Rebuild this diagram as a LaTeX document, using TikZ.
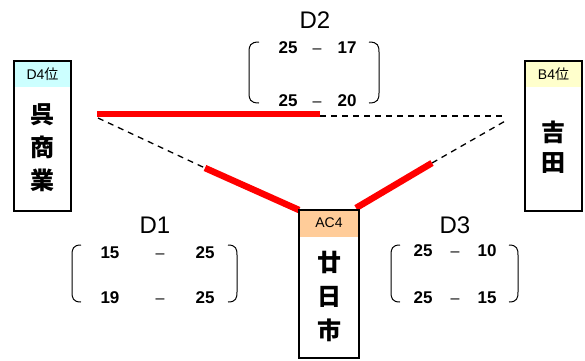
\documentclass[tikz,border=0pt]{standalone}
\usepackage{fontspec}
\setmainfont{Liberation Sans}
\newfontfamily\jp{Noto Sans CJK JP}
\definecolor{hcyan}{HTML}{CCFFFF}
\definecolor{hcream}{HTML}{FFFFCC}
\definecolor{hpeach}{HTML}{FFCC99}
\tikzset{
  teambox/.style={draw=black, line width=2.6pt, inner sep=0pt},
  headtxt/.style={font=\fontsize{14}{15}\selectfont, inner sep=0pt},
  nametxt/.style={font=\fontsize{24}{33}\selectfont\jp\bfseries, align=center, inner sep=0pt},
  setlbl/.style={font=\fontsize{24}{26}\selectfont, inner sep=0pt},
  score/.style={font=\fontsize{17}{18}\selectfont\bfseries, inner sep=0pt, text height=12pt, text depth=0pt},
  dashtxt/.style={font=\fontsize{16}{18}\selectfont, inner sep=0pt, text height=12pt, text depth=0pt},
  win/.style={draw=red, line width=6.5pt},
  lose/.style={draw=black, line width=1.3pt, dash pattern=on 6pt off 5pt},
  paren/.style={draw=black, line width=1pt}
}
\begin{document}
\begin{tikzpicture}[x=1pt,y=-1pt]
\useasboundingbox[fill=white] (0,0) rectangle (585,360);

% coordinates for connectors
\coordinate (LA) at (97,114);
\coordinate (LB) at (98,118);
\coordinate (M) at (320,114);
\coordinate (MB) at (320,116);
\coordinate (RA) at (503,116);
\coordinate (RB) at (507,120);
\coordinate (P1) at (205,168);
\coordinate (P2) at (432,163);
\coordinate (BL) at (299,210);
\coordinate (BR) at (356,208);

% dashed (lost) lines
\draw[lose] (MB) -- (RA);
\draw[lose] (LB) -- (P1);
\draw[lose] (P2) -- (RB);
% red (won) lines
\draw[win] (LA) -- (M);
\draw[win] (P1) -- (BL);
\draw[win] (BR) -- (P2);

% left box
\fill[hcyan] (14,61) rectangle (71,87);
\node[teambox, minimum width=57pt, minimum height=150pt] (kure) at (42.5,136) {};
\node[headtxt] (kureh) at (42.5,74) {D4{\jp 位}};
\node[nametxt] (kuren) at (42.5,148) {呉\\商\\業};

% right box
\fill[hcream] (525,61) rectangle (582,87);
\node[teambox, minimum width=57pt, minimum height=150pt] (yoshi) at (553.5,136) {};
\node[headtxt] (yoshih) at (553.5,74) {B4{\jp 位}};
\node[nametxt, font=\fontsize{24}{30}\selectfont\jp\bfseries] (yoshin) at (553.5,147) {吉\\田};

% bottom box
\fill[hpeach] (299,210) rectangle (359,237);
\node[teambox, minimum width=60pt, minimum height=148pt] (hatsu) at (329,284) {};
\node[headtxt] (hatsuh) at (329,223) {AC4};
\node[nametxt, font=\fontsize{24}{34}\selectfont\jp\bfseries] (hatsun) at (329,296) {廿\\日\\市};

% D2
\node[setlbl] (d2) at (315,20) {D2};
\node[score] (d2a1) at (288,47) {25};
\node[dashtxt] (d2b1) at (317,47) {–};
\node[score] (d2c1) at (347,47) {17};
\node[score] (d2a2) at (288,100) {25};
\node[dashtxt] (d2b2) at (317,100) {–};
\node[score] (d2c2) at (347,100) {20};
\draw[paren] (259,42) .. controls (250,42) and (249,46) .. (249,52) -- (249,93) .. controls (249,99) and (250,103) .. (259,103);
\draw[paren] (369,42) .. controls (378,42) and (379,46) .. (379,52) -- (379,93) .. controls (379,99) and (378,103) .. (369,103);

% D1
\node[setlbl] (d1) at (155,225) {D1};
\node[score] (d1a1) at (110,252) {15};
\node[dashtxt] (d1b1) at (160,252) {–};
\node[score] (d1c1) at (205,252) {25};
\node[score] (d1a2) at (110,297) {19};
\node[dashtxt] (d1b2) at (160,297) {–};
\node[score] (d1c2) at (205,297) {25};
\draw[paren] (81,245) .. controls (73,245) and (72,249) .. (72,255) -- (72,292) .. controls (72,298) and (73,302) .. (81,302);
\draw[paren] (228,245) .. controls (236,245) and (237,249) .. (237,255) -- (237,292) .. controls (237,298) and (236,302) .. (228,302);

% D3
\node[setlbl] (d3) at (455,225) {D3};
\node[score] (d3a1) at (423,250) {25};
\node[dashtxt] (d3b1) at (455,250) {–};
\node[score] (d3c1) at (487,250) {10};
\node[score] (d3a2) at (423,297) {25};
\node[dashtxt] (d3b2) at (455,297) {–};
\node[score] (d3c2) at (487,297) {15};
\draw[paren] (400,245) .. controls (392,245) and (391,249) .. (391,255) -- (391,292) .. controls (391,298) and (392,302) .. (400,302);
\draw[paren] (509,245) .. controls (517,245) and (518,249) .. (518,255) -- (518,292) .. controls (518,298) and (517,302) .. (509,302);
\end{tikzpicture}
\end{document}
